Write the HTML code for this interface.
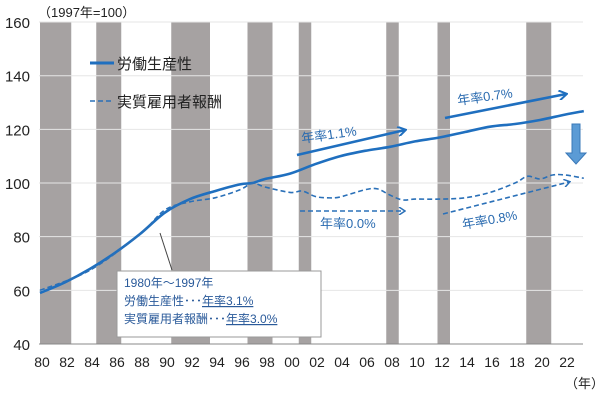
<!DOCTYPE html>
<html><head><meta charset="utf-8"><style>
body{margin:0;background:#fff;}
svg{display:block;font-family:"Liberation Sans","Noto Sans CJK JP",sans-serif;}
</style></head><body>
<svg id="c" width="600" height="400" viewBox="0 0 600 400">
<g id="bands"></g><g id="grid"></g><g id="axes"></g><g id="series"></g><g id="ann"></g>
</svg>
<script>
const years=[1980,1982,1984,1986,1988,1990,1992,1994,1996,1997,1998,2000,2002,2004,2006,2008,2010,2012,2014,2016,2018,2020,2022,2023.5];
const productivity=[59,63,68,74,81,89,94,97,99.5,100,101.5,103.5,107,110,112,113.5,115.5,117,119,121,122,123.5,125.5,126.8];
const compYears=[1980,1984,1988,1990,1992,1994,1996,1997,1998,2000,2001,2002,2003,2004,2006,2007,2008,2009,2010,2012,2014,2016,2018,2019,2020,2021,2022,2023.5];
const compensation=[60,67.5,81,90,93,94.5,97.5,100,98.5,96.5,97,95,94.5,94.8,97.5,97.8,95.5,93.7,94,94,94.5,96.5,100,102.5,101.5,103,103,101.8];
const recessions=[[1980,1982.5],[1984.5,1986.5],[1990.5,1993.6],[1996.6,1998.6],[2000.7,2001.7],[2007.7,2008.7],[2011.8,2012.8],[2018.9,2020.9]];
const yTicks=[40,60,80,100,120,140,160];
const xTicks=["80","82","84","86","88","90","92","94","96","98","00","02","04","06","08","10","12","14","16","18","20","22"];
const NS="http://www.w3.org/2000/svg";
const X=y=>40+(y-1980)*12.5;
const Y=v=>344-(v-40)*2.683;
function mk(p,t,a){const e=document.createElementNS(NS,t);for(const k in a)e.setAttribute(k,a[k]);document.getElementById(p).appendChild(e);return e;}
recessions.forEach(r=>{const e=mk('bands','rect',{x:X(r[0]),y:Y(160),width:X(r[1])-X(r[0]),height:Y(40)-Y(160),fill:'#a6a2a2'});

});
yTicks.forEach(v=>{if(v>40){const g=mk('grid','line',{x1:39,x2:583,y1:Y(v),y2:Y(v),stroke:'#e6e6e6','stroke-width':1});

}
const t=mk('axes','text',{x:30,y:Y(v)+6,'text-anchor':'end','font-size':15,fill:'#222'});t.textContent=v;

});
xTicks.forEach((s,i)=>{const t=mk('axes','text',{x:X(1980+2*i)+2,y:367,'text-anchor':'middle','font-size':14,fill:'#222'});t.textContent=s;

});
const ax=mk('axes','line',{x1:39,x2:583,y1:344,y2:344,stroke:'#888','stroke-width':1});


function path(xs,vs){const P=xs.map((y,i)=>[X(y),Y(vs[i])]);let d='M'+P[0][0].toFixed(1)+','+P[0][1].toFixed(1);
for(let i=0;i<P.length-1;i++){const p0=P[Math.max(i-1,0)],p1=P[i],p2=P[i+1],p3=P[Math.min(i+2,P.length-1)];
const c1=[p1[0]+(p2[0]-p0[0])/6,p1[1]+(p2[1]-p0[1])/6],c2=[p2[0]-(p3[0]-p1[0])/6,p2[1]-(p3[1]-p1[1])/6];
d+='C'+c1.map(n=>n.toFixed(1))+' '+c2.map(n=>n.toFixed(1))+' '+p2.map(n=>n.toFixed(1));}return d;}
const p1=mk('series','path',{d:path(years,productivity),fill:'none',stroke:'#1f6fbf','stroke-width':2.6,'stroke-linejoin':'round'});


const p2=mk('series','path',{d:path(compYears,compensation),fill:'none',stroke:'#2a70b8','stroke-width':1.6,'stroke-dasharray':'5,3'});


</script>
<svg width="600" height="400" style="position:absolute;left:0;top:0" font-family="Liberation Sans, Noto Sans CJK JP, sans-serif">
<defs><marker id="ah" markerWidth="10" markerHeight="10" refX="8" refY="5" orient="auto" markerUnits="userSpaceOnUse"><path d="M1,0 L9,5 L1,10" fill="none" stroke="#1f6fbf" stroke-width="2"/></marker>
<marker id="ah2" markerWidth="8" markerHeight="8" refX="6" refY="4" orient="auto" markerUnits="userSpaceOnUse"><path d="M1,0 L7,4 L1,8" fill="none" stroke="#2a70b8" stroke-width="1.5"/></marker></defs>
<text x="38" y="17" font-size="13" fill="#222">（1997年=100）</text>
<text x="565" y="388" font-size="13" fill="#222">（年）</text>
<g>
<line x1="90" y1="63" x2="114" y2="63" stroke="#1f6fbf" stroke-width="3"/>
<text x="117" y="69" font-size="15" fill="#222">労働生産性</text>
<line x1="90" y1="101" x2="114" y2="101" stroke="#2a70b8" stroke-width="1.6" stroke-dasharray="5,3"/>
<text x="117" y="107" font-size="15" fill="#222">実質雇用者報酬</text>
</g>
<line x1="297" y1="155" x2="405" y2="130" stroke="#1f6fbf" stroke-width="2.6" marker-end="url(#ah)"/>
<text x="302" y="143" font-size="13" fill="#2a6bb0" transform="rotate(-8 302 143)">年率1.1%</text>
<line x1="445" y1="118" x2="566" y2="94" stroke="#1f6fbf" stroke-width="2.6" marker-end="url(#ah)"/>
<text x="458" y="105" font-size="13" fill="#2a6bb0" transform="rotate(-8 458 105)">年率0.7%</text>
<line x1="300" y1="211" x2="404" y2="211" stroke="#2a70b8" stroke-width="1.6" stroke-dasharray="5,3" marker-end="url(#ah2)"/>
<text x="320" y="228" font-size="13" fill="#2a6bb0">年率0.0%</text>
<line x1="443" y1="214" x2="569" y2="182" stroke="#2a70b8" stroke-width="1.6" stroke-dasharray="5,3" marker-end="url(#ah2)"/>
<text x="463" y="229" font-size="13" fill="#2a6bb0" transform="rotate(-10 463 229)">年率0.8%</text>
<path d="M572,124 H580 V153 H586 L576,164 L566,153 H572 Z" fill="#5b9bd5" stroke="#3a78b8" stroke-width="1"/>
<line x1="172" y1="270" x2="160" y2="233" stroke="#444" stroke-width="1"/>
<g>
<rect x="117" y="271" width="204" height="66" fill="#fff" stroke="#999" stroke-width="1"/>
<text x="124" y="287" font-size="12" fill="#2a5a9a">1980年～1997年</text>
<text x="124" y="305" font-size="12" fill="#2a5a9a">労働生産性･･･<tspan text-decoration="underline">年率3.1%</tspan></text>
<text x="124" y="323" font-size="12" fill="#2a5a9a">実質雇用者報酬･･･<tspan text-decoration="underline">年率3.0%</tspan></text>
</g>
</svg>
</body></html>
